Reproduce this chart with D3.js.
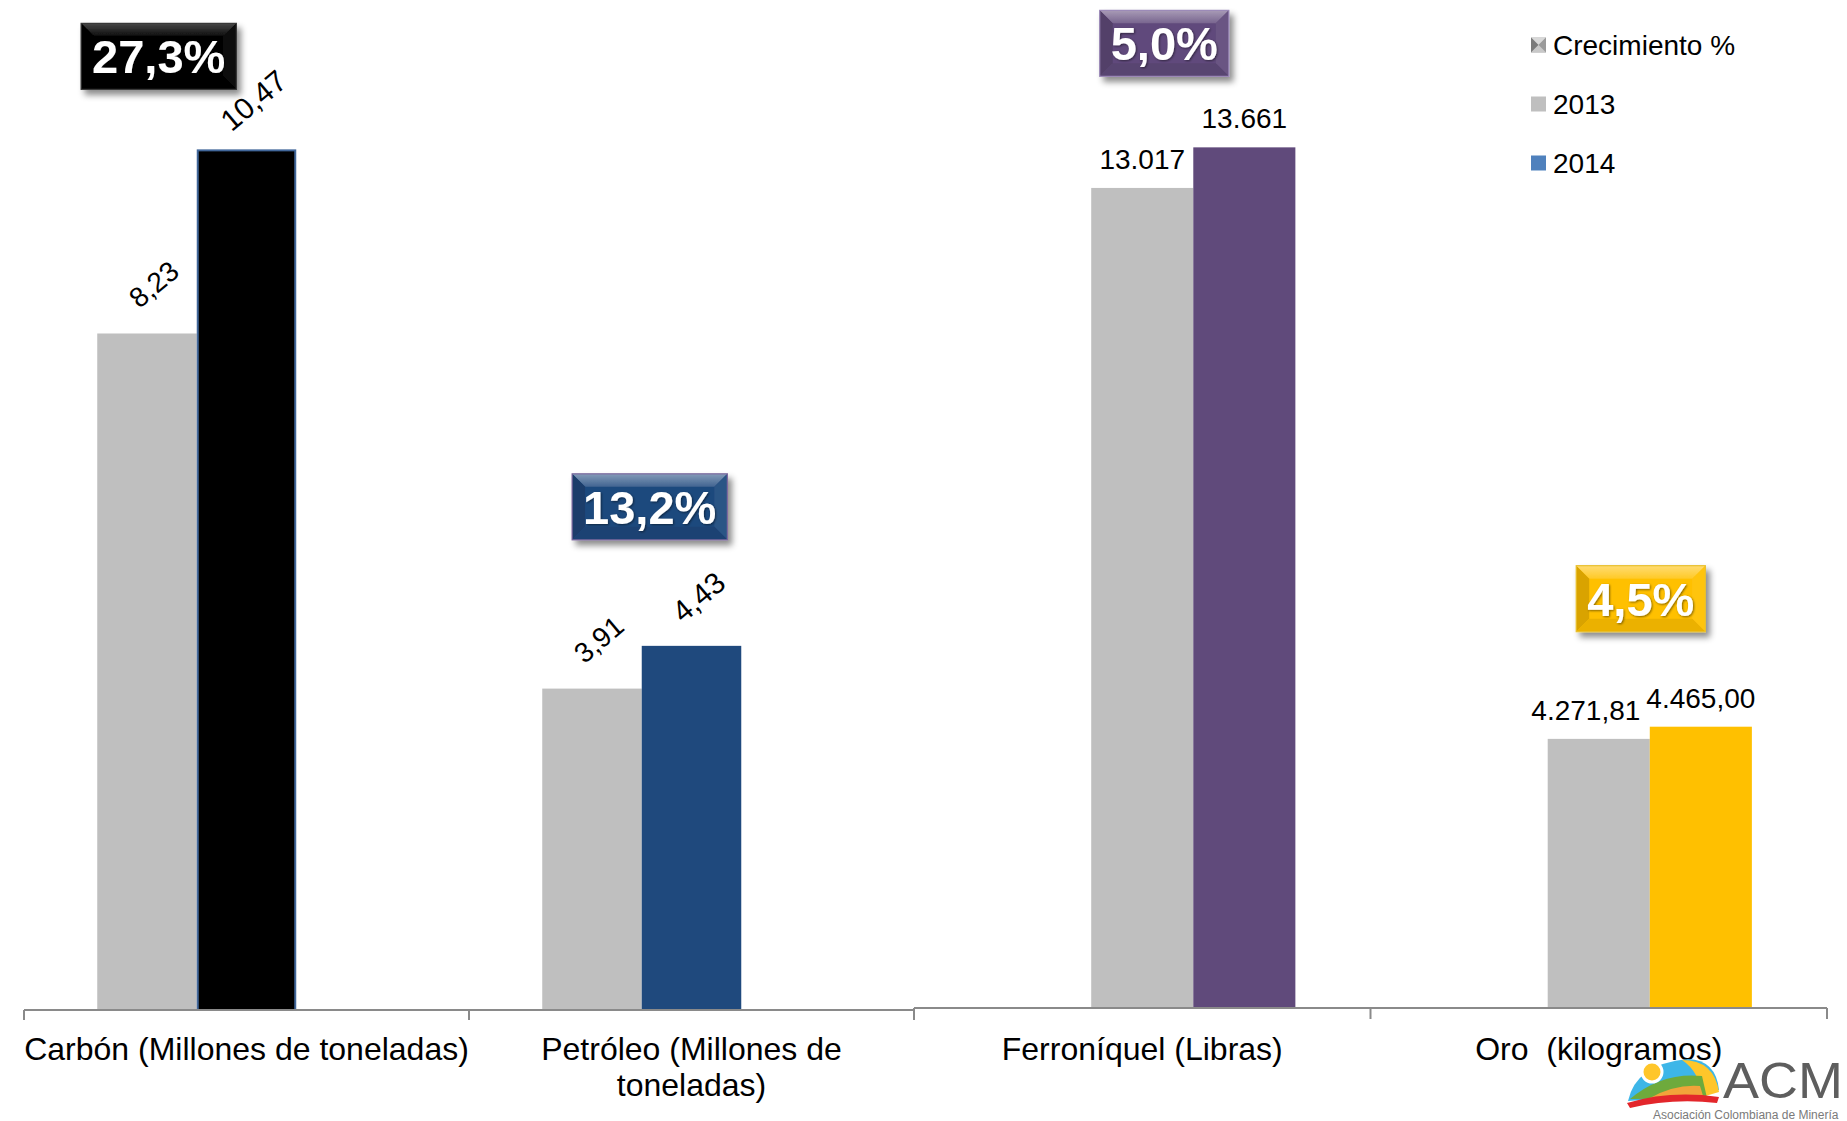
<!DOCTYPE html>
<html>
<head>
<meta charset="utf-8">
<script src="https://cdn.jsdelivr.net/npm/d3@7"></script>
<style>
  body { margin: 0; background: #ffffff; }
  text { font-family: "Liberation Sans", Arial, Helvetica, sans-serif; }
</style>
</head>
<body>
<svg id="chart" width="1847" height="1121"></svg>
<script>
// ---------------- DATA ----------------
const seriesNames = ["Crecimiento %", "2013", "2014"];

const leftCategories = ["Carbón (Millones de toneladas)", "Petróleo (Millones de toneladas)"];
const leftValues2013 = [8.23, 3.91];
const leftValues2014 = [10.47, 4.43];
const leftGrowth = [27.3, 13.2];

const rightCategories = ["Ferroníquel (Libras)", "Oro  (kilogramos)"];
const rightValues2013 = [13017, 4271.81];
const rightValues2014 = [13661, 4465.00];
const rightGrowth = [5.0, 4.5];

// ---------------- STYLE / LAYOUT ----------------
const esLocale = d3.formatLocale({ decimal: ",", thousands: ".", grouping: [3], currency: ["", ""] });
const color2013 = "#BFBFBF";
const legendColors = { "2013": "#BFBFBF", "2014": "#4F81BD" };

const svg = d3.select("#chart");
const defs = svg.append("defs");

defs.append("filter").attr("id", "shadow").attr("x", "-20%").attr("y", "-20%").attr("width", "150%").attr("height", "160%")
  .append("feDropShadow").attr("dx", 4).attr("dy", 5).attr("stdDeviation", 3)
  .attr("flood-color", "#000").attr("flood-opacity", 0.45);
defs.append("filter").attr("id", "txtshadow").attr("x", "-10%").attr("y", "-20%").attr("width", "130%").attr("height", "150%")
  .append("feDropShadow").attr("dx", 1).attr("dy", 1).attr("stdDeviation", 0.8)
  .attr("flood-color", "#000").attr("flood-opacity", 0.5);

function wrapLabel(textSel, str, width, lineHeight) {
  textSel.text(str);
  if (textSel.node().getComputedTextLength() <= width + 2) return;
  textSel.text(null);
  const words = str.split(" ");
  let line = [];
  let tspan = textSel.append("tspan").attr("x", textSel.attr("x")).attr("dy", 0);
  words.forEach(w => {
    line.push(w);
    tspan.text(line.join(" "));
    if (tspan.node().getComputedTextLength() > width && line.length > 1) {
      line.pop();
      tspan.text(line.join(" "));
      line = [w];
      tspan = textSel.append("tspan").attr("x", textSel.attr("x")).attr("dy", lineHeight).text(w);
    }
  });
}

function bevelBox(g, cx, cy, label, color, strokeColor) {
  const fs = 47;
  const tmp = g.append("text").attr("font-size", fs).attr("font-weight", "bold").text(label);
  const tw = tmp.node().getComputedTextLength();
  tmp.remove();
  const w = tw + 22, h = 66, b = 13;
  const x = cx - w / 2, y = cy - h / 2;
  const box = g.append("g").attr("filter", "url(#shadow)");
  const gid = "grad" + Math.round(cx) + "_" + Math.round(cy);
  const grad = defs.append("linearGradient").attr("id", gid).attr("x1", 0).attr("y1", 0).attr("x2", 0).attr("y2", 1);
  const isBlack = d3.color(color).formatHex() === "#000000";
  grad.append("stop").attr("offset", "0%").attr("stop-color", d3.interpolateRgb(color, "#fff")(isBlack ? 0.28 : 0.45));
  grad.append("stop").attr("offset", "100%").attr("stop-color", d3.interpolateRgb(color, "#fff")(isBlack ? 0.05 : 0.15));
  box.append("rect").attr("x", x).attr("y", y).attr("width", w).attr("height", h).attr("fill", color);
  box.append("polygon").attr("points", [[x, y], [x + w, y], [x + w - b, y + b], [x + b, y + b]].join(" "))
    .attr("fill", `url(#${gid})`);
  box.append("polygon").attr("points", [[x, y], [x + b, y + b], [x + b, y + h - b], [x, y + h]].join(" "))
    .attr("fill", d3.interpolateRgb(color, "#000")(0.15));
  box.append("polygon").attr("points", [[x + w, y], [x + w - b, y + b], [x + w - b, y + h - b], [x + w, y + h]].join(" "))
    .attr("fill", d3.interpolateRgb(color, "#fff")(0.06));
  box.append("polygon").attr("points", [[x, y + h], [x + b, y + h - b], [x + w - b, y + h - b], [x + w, y + h]].join(" "))
    .attr("fill", d3.interpolateRgb(color, "#000")(0.08));
  box.append("rect").attr("x", x).attr("y", y).attr("width", w).attr("height", h)
    .attr("fill", "none").attr("stroke", strokeColor).attr("stroke-width", 1.2);
  g.append("text").attr("x", cx).attr("y", cy + 0.36 * fs).attr("text-anchor", "middle")
    .attr("font-size", fs).attr("font-weight", "bold").attr("fill", "#fff")
    .attr("filter", "url(#txtshadow)").text(label);
}

function panel(cfg) {
  const g = svg.append("g");
  const x0 = d3.scaleBand().domain(cfg.categories).range(cfg.xRange).paddingInner(0).paddingOuter(0);
  const x1 = d3.scaleBand().domain(cfg.order).range([0, x0.bandwidth()]).paddingInner(0).paddingOuter(0.736);
  const y = d3.scaleLinear().domain(cfg.yDomain).range(cfg.yRange);

  const rows = cfg.categories.map((c, i) => ({
    cat: c, v2013: cfg.v2013[i], v2014: cfg.v2014[i], growth: cfg.growth[i],
    color: cfg.colors2014[i], stroke: cfg.strokes2014[i], fmt: esLocale.format(cfg.formats[i]),
    boxOff: cfg.boxOffsets[i], boxStroke: cfg.boxStrokes[i]
  }));

  // bars 2013
  g.selectAll(".b13").data(rows).enter().append("rect")
    .attr("x", d => x0(d.cat) + x1("2013")).attr("width", x1.bandwidth())
    .attr("y", d => y(d.v2013)).attr("height", d => y(0) - y(d.v2013))
    .attr("fill", color2013);
  // bars 2014
  g.selectAll(".b14").data(rows).enter().append("rect")
    .attr("x", d => x0(d.cat) + x1("2014") + (d.stroke ? 1 : 0))
    .attr("width", d => x1.bandwidth() - (d.stroke ? 2 : 0))
    .attr("y", d => y(d.v2014) + (d.stroke ? 1 : 0))
    .attr("height", d => y(0) - y(d.v2014) - (d.stroke ? 1 : 0))
    .attr("fill", d => d.color)
    .attr("stroke", d => d.stroke || "none").attr("stroke-width", 2);

  // axis
  const base = y(0);
  g.append("line").attr("x1", cfg.xRange[0]).attr("x2", cfg.xRange[1]).attr("y1", base).attr("y2", base)
    .attr("stroke", "#8A8A8A").attr("stroke-width", 2);
  const tickXs = cfg.categories.map(c => x0(c)).concat([cfg.xRange[1]]);
  g.selectAll(".tick").data(tickXs).enter().append("line")
    .attr("x1", d => d).attr("x2", d => d).attr("y1", base).attr("y2", base + cfg.tickLen)
    .attr("stroke", "#8A8A8A").attr("stroke-width", 2);

  // category labels
  rows.forEach(d => {
    const t = g.append("text").attr("x", x0(d.cat) + x0.bandwidth() / 2).attr("y", cfg.labelY)
      .attr("text-anchor", "middle").attr("font-size", 32).attr("fill", "#000")
      .style("white-space", "pre");
    wrapLabel(t, d.cat, x0.bandwidth(), 36);
  });

  // value labels
  rows.forEach(d => {
    const cx13 = x0(d.cat) + x1("2013") + x1.bandwidth() / 2;
    const cx14 = x0(d.cat) + x1("2014") + x1.bandwidth() / 2;
    if (cfg.rotate) {
      [[cx13, d.v2013, 28], [cx14, d.v2014, 30]].forEach(([cx, v, fs]) => {
        g.append("text").attr("transform", `translate(${cx + 7},${y(v) - 49}) rotate(-40)`)
          .attr("text-anchor", "middle").attr("dominant-baseline", "central")
          .attr("font-size", fs).attr("fill", "#000").text(d.fmt(v));
      });
    } else {
      const t14 = g.append("text").attr("x", cx14).attr("y", y(d.v2014) - 19).attr("text-anchor", "middle")
        .attr("font-size", 28).attr("fill", "#000").text(d.fmt(d.v2014));
      const t13 = g.append("text").attr("x", cx13).attr("y", y(d.v2013) - 19).attr("text-anchor", "middle")
        .attr("font-size", 28).attr("fill", "#000").text(d.fmt(d.v2013));
      // nudge the 2013 label left if it would collide with the 2014 label
      const b13 = t13.node().getBBox(), b14 = t14.node().getBBox();
      const overlapX = b13.x + b13.width + 6 - b14.x;
      const overlapY = Math.min(b13.y + b13.height, b14.y + b14.height) - Math.max(b13.y, b14.y);
      if (overlapX > 0 && overlapY > 0) t13.attr("x", cx13 - overlapX);
    }
  });

  // growth boxes
  rows.forEach(d => {
    const px = x0(d.cat) + x1("2014");
    const top = y(d.v2014);
    bevelBox(g, px + d.boxOff[0], top + d.boxOff[1], esLocale.format(",.1f")(d.growth) + "%", d.color, d.boxStroke);
  });
}

panel({
  categories: leftCategories, v2013: leftValues2013, v2014: leftValues2014, growth: leftGrowth,
  order: ["2013", "2014", "Crecimiento %"],
  xRange: [24, 914], yDomain: [0, 12], yRange: [1010, 1010 - 12 * 82.2],
  colors2014: ["#000000", "#1F497D"], strokes2014: ["#41679A", null],
  formats: [",.2f", ",.2f"], rotate: true, tickLen: 10, labelY: 1060,
  boxOffsets: [[-38, -93], [8, -139]], boxStrokes: ["#3a3a3a", "#7E6A9E"]
});
panel({
  categories: rightCategories, v2013: rightValues2013, v2014: rightValues2014, growth: rightGrowth,
  order: ["Crecimiento %", "2013", "2014"],
  xRange: [914, 1827], yDomain: [0, 16000], yRange: [1008, 0],
  colors2014: ["#604A7B", "#FFC000"], strokes2014: [null, null],
  formats: [",.0f", ",.2f"], rotate: false, tickLen: 11, labelY: 1060,
  boxOffsets: [[-29, -104], [-9, -128]], boxStrokes: ["#9C8AB8", "#E8C030"]
});

// ---------------- LEGEND ----------------
const legend = svg.append("g");
const legY = [45, 104, 163];
seriesNames.forEach((s, i) => {
  const cy = legY[i];
  if (s === "Crecimiento %") {
    const x = 1531, y = cy - 7.5, w = 15;
    legend.append("rect").attr("x", x).attr("y", y).attr("width", w).attr("height", w).attr("fill", "#B0B0B0");
    legend.append("polygon").attr("points", [[x, y], [x + w, y], [x + w / 2, y + w / 2]].join(" ")).attr("fill", "#D8D8D8");
    legend.append("polygon").attr("points", [[x, y], [x, y + w], [x + w / 2, y + w / 2]].join(" ")).attr("fill", "#7A7A7A");
    legend.append("polygon").attr("points", [[x + w, y], [x + w, y + w], [x + w / 2, y + w / 2]].join(" ")).attr("fill", "#9A9A9A");
    legend.append("polygon").attr("points", [[x, y + w], [x + w, y + w], [x + w / 2, y + w / 2]].join(" ")).attr("fill", "#C8C8C8");
  } else {
    legend.append("rect").attr("x", 1531).attr("y", cy - 7.5).attr("width", 15).attr("height", 15).attr("fill", legendColors[s]);
  }
  legend.append("text").attr("x", 1553).attr("y", cy + 10).attr("font-size", 28).attr("fill", "#000").text(s);
});

// ---------------- LOGO ----------------
const logo = svg.append("g");
logo.append("path").attr("d", "M1628,1101 Q1636,1064 1688,1059 Q1716,1060 1719,1090 L1700,1096 Z").attr("fill", "#3DB6E8");
logo.append("path").attr("d", "M1682,1060 Q1714,1060 1719,1092 L1702,1097 Q1700,1072 1682,1060 Z").attr("fill", "#FFC62A");
logo.append("path").attr("d", "M1630,1099 Q1662,1072 1702,1076 L1707,1098 Z").attr("fill", "#6EAA3C");
logo.append("path").attr("d", "M1650,1098 Q1675,1084 1700,1086 L1704,1099 Z").attr("fill", "#F2A33A");
logo.append("path").attr("d", "M1627,1103 Q1670,1090 1719,1097 L1717,1103 Q1672,1098 1630,1108 Z").attr("fill", "#E3262B");
logo.append("circle").attr("cx", 1652).attr("cy", 1072).attr("r", 10).attr("fill", "#FFC62A").attr("stroke", "#fff").attr("stroke-width", 3);
logo.append("text").attr("transform", "translate(1723,1098) scale(1.08,1)").attr("font-size", 50).attr("fill", "#5E5E5E").text("ACM");
logo.append("text").attr("x", 1653).attr("y", 1119).attr("font-size", 12).attr("fill", "#7A7A7A").text("Asociación Colombiana de Minería");
</script>
</body>
</html>
